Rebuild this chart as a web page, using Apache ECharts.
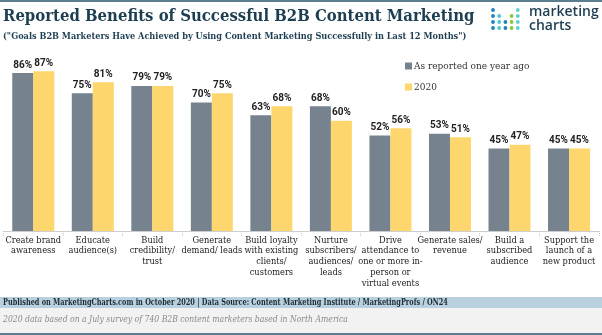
<!DOCTYPE html>
<html>
<head>
<meta charset="utf-8">
<script src="https://cdn.jsdelivr.net/npm/echarts@6/dist/echarts.min.js"></script>
<style>
  html, body { margin: 0; padding: 0; background: #fff; }
  #chart { width: 602px; height: 335px; }
</style>
</head>
<body>
<div id="chart"></div>
<script>
// Goals achieved by B2B marketers through content marketing
const categories = [
  'Create brand\nawareness',
  'Educate\naudience(s)',
  'Build\ncredibility/\ntrust',
  'Generate\ndemand/ leads',
  'Build loyalty\nwith existing\nclients/\ncustomers',
  'Nurture\nsubscribers/\naudiences/\nleads',
  'Drive\nattendance to\none or more in-\nperson or\nvirtual events',
  'Generate sales/\nrevenue',
  'Build a\nsubscribed\naudience',
  'Support the\nlaunch of a\nnew product'
];
const seriesNames = ['As reported one year ago', '2020'];
const lastYear = [86, 75, 79, 70, 63, 68, 52, 53, 45, 45];
const year2020 = [87, 81, 79, 75, 68, 60, 56, 51, 47, 45];

const titleText = 'Reported Benefits of Successful B2B Content Marketing';
const subtitleText = '("Goals B2B Marketers Have Achieved by Using Content Marketing Successfully in Last 12 Months")';
const sourceText = 'Published on MarketingCharts.com in October 2020 | Data Source: Content Marketing Institute / MarketingProfs / ON24';
const noteText = '2020 data based on a July survey of 740 B2B content marketers based in North America';

const SERIF = '"DejaVu Serif Condensed", "DejaVu Serif", serif';
const DARK = '#1d3e51';

// logo dot grid
const logoDots = [];
const dotCols = ['#1f82bd', '#4ec4d8', '#1f82bd', '#8cc63f', '#5bd0d5'];
const dotRows = [[0, 4], [0, 1, 3, 4], [0, 1, 2, 3, 4], [0, 1, 2, 3, 4]];
dotRows.forEach((cols, r) => cols.forEach(c => logoDots.push({
  type: 'circle',
  shape: { cx: 493 + c * 6.2, cy: 10 + r * 6, r: 1.9 },
  style: { fill: dotCols[c] }
})));

// text squeezed horizontally to the narrow slab face of the header/footer
function squeezedText(text, x, y, scaleX, style) {
  return {
    type: 'text', x: x, y: y, scaleX: scaleX, scaleY: 1,
    style: Object.assign({ text: text, fontFamily: SERIF, verticalAlign: 'middle' }, style)
  };
}

const chart = echarts.init(document.getElementById('chart'), null, { renderer: 'canvas' });

const labelStyle = {
  show: true,
  position: 'top',
  distance: 3,
  formatter: '{c}%',
  fontFamily: 'Roboto, sans-serif',
  fontWeight: 'bold',
  fontSize: 10,
  color: '#222'
};

chart.setOption({
  animation: false,
  backgroundColor: '#fff',
  legend: {
    orient: 'vertical',
    left: 400, top: 56,
    itemWidth: 7, itemHeight: 7,
    itemGap: 11,
    icon: 'rect',
    textStyle: { fontFamily: SERIF, fontSize: 10, color: '#333', padding: [0, 0, 0, -3] },
    data: seriesNames
  },
  grid: { left: 3.5, right: 3.2, top: 47.4, bottom: 104, containLabel: false },
  xAxis: {
    type: 'category',
    data: categories,
    axisLine: { show: true, lineStyle: { color: '#c8c8c8', type: 'dotted', width: 1 } },
    axisTick: { show: true, length: 5, lineStyle: { color: '#c8c8c8', type: 'dotted' } },
    axisLabel: {
      interval: 0,
      margin: 4,
      fontFamily: SERIF,
      fontSize: 9.2,
      lineHeight: 10.7,
      color: '#222'
    }
  },
  yAxis: {
    type: 'value', min: 0, max: 100, show: false,
    splitLine: { show: false }
  },
  series: [
    {
      name: seriesNames[0], type: 'bar', data: lastYear,
      barWidth: 21, barGap: '0%',
      itemStyle: { color: '#76838f' },
      label: labelStyle
    },
    {
      name: seriesNames[1], type: 'bar', data: year2020,
      barWidth: 21, barGap: '0%',
      itemStyle: { color: '#fed66e' },
      label: labelStyle
    }
  ],
  graphic: [
    { type: 'rect', shape: { x: 0, y: 0, width: 602, height: 2 }, style: { fill: '#5b7f8f' } },
    squeezedText(titleText, 3, 16.5, 0.974, { fontWeight: 'bold', fontSize: 17, fill: DARK }),
    squeezedText(subtitleText, 3, 36, 0.91, { fontWeight: 'bold', fontSize: 10, fill: DARK }),
    ...logoDots,
    {
      type: 'text', left: 529, top: 5,
      style: { text: 'marketing\ncharts', fontFamily: '"Open Sans", sans-serif', fontWeight: 600, fontSize: 14, lineHeight: 14, fill: DARK }
    },
    { type: 'rect', shape: { x: 0, y: 297, width: 602, height: 11 }, style: { fill: '#b9d1de' } },
    { type: 'rect', shape: { x: 0, y: 308, width: 602, height: 25 }, style: { fill: '#f2f2f2' } },
    { type: 'rect', shape: { x: 0, y: 333, width: 602, height: 2 }, style: { fill: '#5b7f8f' } },
    squeezedText(sourceText, 3, 302.5, 0.765, { fontWeight: 'bold', fontSize: 9.5, fill: '#1b2a35' }),
    squeezedText(noteText, 3, 320, 0.9, { fontStyle: 'italic', fontSize: 9.5, fill: '#8a8a8a' })
  ]
});
</script>
</body>
</html>
